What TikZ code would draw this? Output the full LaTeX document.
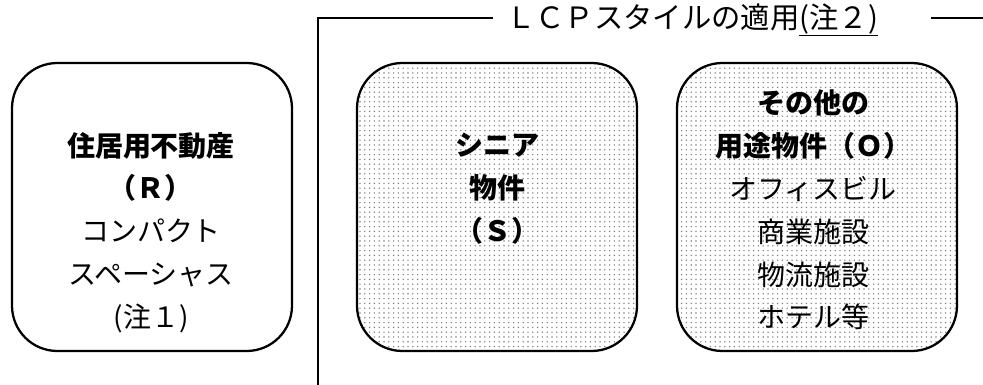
\documentclass[tikz,border=0pt]{standalone}
\usepackage{fontspec}
\setmainfont{Noto Sans CJK JP}
\usetikzlibrary{patterns.meta}
\begin{document}
\begin{tikzpicture}[x=0.75pt,y=-0.75pt,
  box/.style={draw=black, line width=1.7pt, rounded corners=34pt,
    minimum width=210pt, minimum height=216pt, inner sep=0pt},
  dotted box/.style={box, pattern={Dots[distance=3.6pt, radius=0.6pt]}, pattern color=black!50},
  label/.style={align=center, inner sep=0pt, font=\fontsize{21}{32.1}\selectfont},
  frame/.style={line width=1.5pt}]
\useasboundingbox (0,0) rectangle (983,385);
% boxes
\node[box, fill=white] (boxR) at (152,207) {};
\node[dotted box] (boxS) at (497,207) {};
\node[dotted box] (boxO) at (817,207) {};
% texts
\node[label] (txtR) at (151,232.5) {{\bfseries 住居用不動産}\\{\bfseries （Ｒ）}\\コンパクト\\スペーシャス\\(注１)};
\node[label] (txtS) at (497,188.5) {{\bfseries シニア}\\{\bfseries 物件}\\{\bfseries （Ｓ）}};
\node[label] (txtO) at (813,210) {{\bfseries その他の}\\{\bfseries 用途物件（Ｏ）}\\オフィスビル\\商業施設\\物流施設\\ホテル等};
% title and frame
\node[label, font=\fontsize{22}{26}\selectfont] (title) at (692,20) {ＬＣＰスタイルの適用\underline{(注２)}};
\coordinate (ltop) at (318,18);
\coordinate (lbot) at (318,385);
\coordinate (lend) at (493,18);
\coordinate (rstart) at (931,18);
\coordinate (rend) at (983,18);
\draw[frame] (lend) -- (ltop) -- (lbot);
\draw[frame] (rstart) -- (rend);
\end{tikzpicture}
\end{document}
